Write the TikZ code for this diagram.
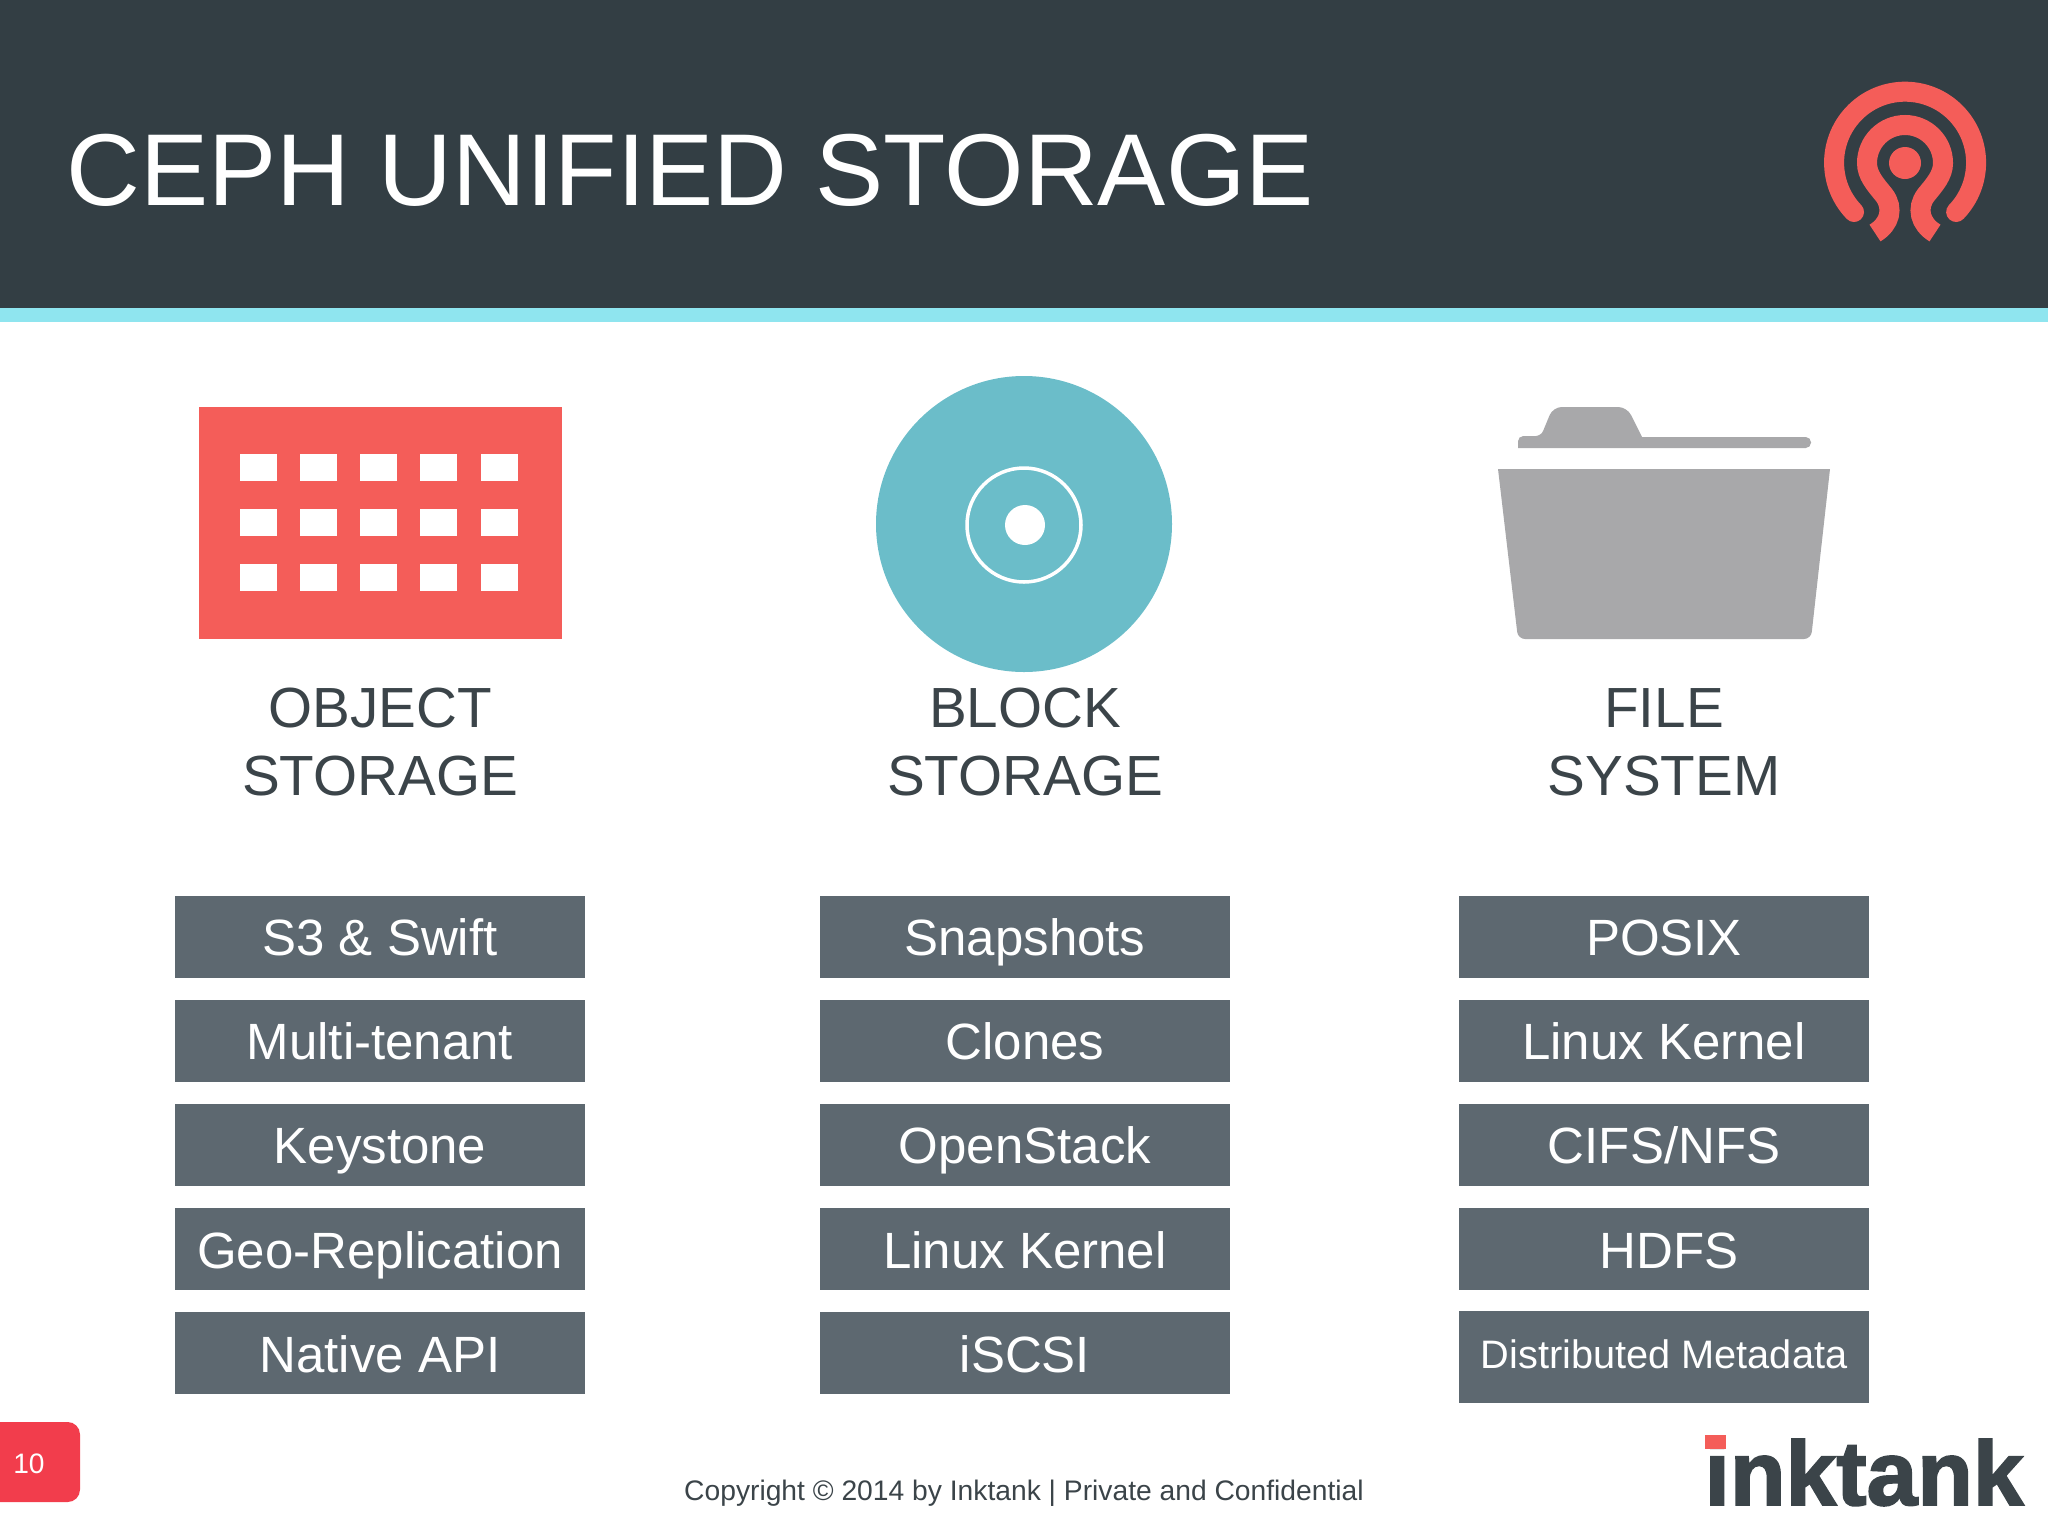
\documentclass[tikz,border=0pt]{standalone}
\usepackage{fontspec}
\setmainfont{Liberation Sans}
\newfontfamily\brandfont[BoldFeatures={FakeBold=2}]{Liberation Sans}
\definecolor{headerdark}{HTML}{333E44}
\definecolor{stripcyan}{HTML}{8FE5EF}
\definecolor{iconred}{HTML}{F45D59}
\definecolor{disccyan}{HTML}{6BBDC9}
\definecolor{foldergrey}{HTML}{A8A8AA}
\definecolor{boxgrey}{HTML}{5D6870}
\definecolor{labeltext}{HTML}{3B4449}
\definecolor{badgered}{HTML}{F23D4C}

\begin{document}
\begin{tikzpicture}[x=0.01cm, y=-0.01cm, node distance=1.04cm,
  featbox/.style={shape=rectangle, fill=boxgrey, text=white, minimum width=4.10cm, minimum height=0.82cm, inner sep=0pt, text height=12.2pt, text depth=1.5pt, font=\fontsize{14.5}{18}\selectfont},
  storelabel/.style={align=center, text=labeltext, inner sep=0pt, font=\fontsize{16.1}{19.4}\selectfont}]
\useasboundingbox (0,0) rectangle (2048,1536);

% header
\fill[headerdark] (0,0) rectangle (2048,308);
\fill[stripcyan] (0,308) rectangle (2048,322);
\node [anchor=base west, inner sep=0pt, text=white, font=\fontsize{29.05}{34}\selectfont] (title) at (66,205) {CEPH UNIFIED STORAGE};

% ceph logo
\draw[iconred, line width=0.2cm, line cap=round] (1854,212) arc [start angle=136, end angle=404, radius=71];
\draw[iconred, line width=0.2cm] (1875,233) .. controls (1890,224) and (1894,208) .. (1884,195) .. controls (1875,184) and (1867,175) .. (1867,163) arc [start angle=180, end angle=360, radius=38] .. controls (1943,175) and (1935,184) .. (1926,195) .. controls (1916,208) and (1920,224) .. (1935,233);
\fill[iconred] (1905,163) circle [radius=16];

% object icon
\fill[iconred] (199,407) rectangle (562,639);
\foreach \xa in {240,300,360,420,481}
  \foreach \ya in {454,509,564}
    \fill[white] (\xa,\ya) rectangle ++(37,27);

% block icon
\fill[disccyan] (1024,524) circle [radius=148];
\draw[white, line width=0.035cm] (1024,525) circle [radius=57];
\fill[white] (1025,525) circle [radius=20];

% file icon
\fill[foldergrey] (1518,448) [rounded corners=1.5pt] -- (1518,436) -- (1541,436) [rounded corners=2.5pt] -- (1553,407) -- (1627,407) [sharp corners] -- (1642,437) [rounded corners=1.5pt] -- (1811,437) -- (1811,448) [sharp corners] -- cycle;
\fill[foldergrey] (1498,469) -- (1830,469) [rounded corners=2pt] -- (1811,639) -- (1518,639) [sharp corners] -- cycle;

% column labels
\node [storelabel] (L1) at (380,742) {OBJECT\\STORAGE};
\node [storelabel] (L2) at (1025,742) {BLOCK\\STORAGE};
\node [storelabel] (L3) at (1664,742) {FILE\\SYSTEM};

% object column
\node [featbox] (O1) at (380,937) {S3 \& Swift};
\node [featbox, below of=O1] (O2) {Multi-tenant};
\node [featbox, below of=O2] (O3) {Keystone};
\node [featbox, below of=O3] (O4) {Geo-Replication};
\node [featbox, below of=O4] (O5) {Native API};

% block column
\node [featbox] (B1) at (1025,937) {Snapshots};
\node [featbox, below of=B1] (B2) {Clones};
\node [featbox, below of=B2] (B3) {OpenStack};
\node [featbox, below of=B3] (B4) {Linux Kernel};
\node [featbox, below of=B4] (B5) {iSCSI};

% file column
\node [featbox] (F1) at (1664,937) {POSIX};
\node [featbox, below of=F1] (F2) {Linux Kernel};
\node [featbox, below of=F2] (F3) {CIFS/NFS};
\node [featbox, below of=F3] (F4) {\hspace{3pt}HDFS};
\node [featbox, below of=F4, node distance=1.075cm, minimum height=0.92cm, text height=9pt, text depth=2.4pt, font=\fontsize{11.3}{14}\selectfont] (F5) {Distributed Metadata};

% footer
\fill[badgered, rounded corners=3.5pt] (-40,1422) rectangle (80,1502);
\node [text=white, inner sep=0pt, font=\fontsize{8}{10}\selectfont] (pagenum) at (29,1464) {10};
\node [text=labeltext, anchor=base, inner sep=0pt, font=\fontsize{8.03}{10}\selectfont] (copy) at (1024,1500) {Copyright © 2014 by Inktank | Private and Confidential};
\node [text=labeltext, anchor=base west, inner sep=0pt, font=\brandfont\fontsize{25.9}{30}\bfseries\selectfont] (brand) at (1704,1505) {inktank};
\fill[iconred] (1705,1435) rectangle (1726,1449);
\end{tikzpicture}
\end{document}
